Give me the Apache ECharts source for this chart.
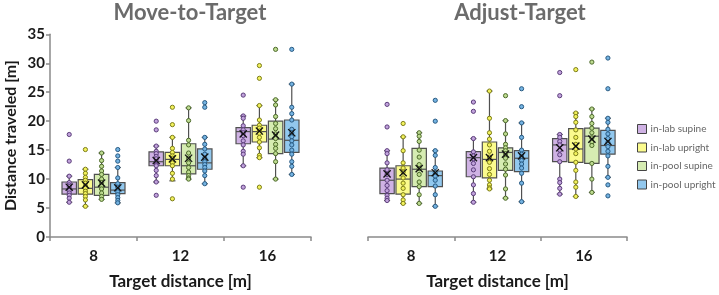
<!DOCTYPE html>
<html><head><meta charset="utf-8">
<script src="https://cdn.jsdelivr.net/npm/echarts@6/dist/echarts.min.js"></script>
<style>html,body{margin:0;padding:0;background:#fff}#c{width:719px;height:295px}</style>
</head><body><div id="c"></div>
<script>
const categories = ['8', '12', '16'];
const conditions = ['in-lab supine', 'in-lab upright', 'in-pool supine', 'in-pool upright'];
const panelTitles = ['Move-to-Target', 'Adjust-Target'];

// Move-to-Target: [min, Q1, median, Q3, max] per target distance (8, 12, 16)
const mttBoxLabSupine  = [[6.0, 7.4, 8.3, 9.5, 10.5], [9.5, 12.3, 13.0, 14.7, 15.7], [12.3, 16.1, 18.2, 18.9, 20.9]];
const mttBoxLabUpright = [[5.3, 7.4, 8.4, 9.9, 11.7], [9.7, 12.3, 13.4, 14.6, 17.2], [13.7, 16.4, 18.2, 19.3, 22.7]];
const mttBoxPoolSupine = [[6.5, 7.2, 8.6, 10.8, 14.5], [10.0, 10.9, 12.3, 16.1, 22.3], [10.0, 14.4, 16.9, 20.0, 23.7]];
const mttBoxPoolUpright= [[5.9, 7.5, 8.1, 9.4, 12.0], [9.2, 11.7, 12.8, 15.2, 17.2], [10.8, 14.6, 16.7, 20.2, 26.4]];
const mttMeanLabSupine  = [8.6, 13.2, 17.8];
const mttMeanLabUpright = [9.0, 13.5, 18.3];
const mttMeanPoolSupine = [9.3, 13.6, 17.6];
const mttMeanPoolUpright= [8.5, 13.8, 18.0];
const mttPtsLabSupine  = [[17.7, 13.1, 10.5, 9.4, 9.0, 8.7, 8.3, 8.0, 7.6, 7.2, 6.7, 6.0],
                          [20.0, 18.5, 15.7, 14.8, 14.4, 13.9, 13.5, 13.0, 12.5, 12.3, 11.5, 10.6, 9.5, 7.2],
                          [24.5, 20.9, 20.5, 19.2, 18.5, 18.0, 17.5, 16.6, 15.9, 14.8, 14.3, 12.3, 8.6]];
const mttPtsLabUpright = [[15.1, 11.7, 11.0, 10.3, 9.8, 9.3, 8.8, 8.4, 7.9, 7.5, 7.0, 6.4, 5.3],
                          [22.4, 19.4, 17.2, 15.3, 14.6, 14.0, 13.6, 13.2, 12.8, 12.3, 11.0, 10.0, 6.6],
                          [29.6, 27.4, 22.7, 20.2, 19.3, 18.8, 18.3, 17.9, 17.2, 16.4, 15.4, 14.1, 13.7, 8.6]];
const mttPtsPoolSupine = [[14.5, 13.2, 12.2, 11.4, 10.8, 10.0, 9.4, 8.8, 8.3, 7.6, 7.0, 6.5],
                          [22.3, 20.1, 16.7, 15.9, 14.5, 13.6, 12.8, 12.0, 11.2, 10.6, 10.2, 10.0],
                          [32.4, 23.7, 22.8, 20.8, 19.6, 18.7, 17.8, 17.0, 16.0, 15.3, 14.4, 13.0, 10.0]];
const mttPtsPoolUpright= [[15.1, 14.0, 13.1, 12.0, 10.2, 9.2, 8.6, 8.1, 7.8, 7.3, 6.8, 6.3, 5.9],
                          [23.2, 22.4, 17.2, 16.0, 15.2, 14.3, 13.6, 13.0, 12.5, 12.0, 11.4, 10.6, 9.2],
                          [32.4, 26.4, 22.4, 21.3, 20.2, 18.6, 18.0, 17.3, 16.6, 15.9, 15.0, 14.3, 13.0, 12.2, 10.8]];

// Adjust-Target
const atBoxLabSupine  = [[6.3, 7.5, 9.8, 11.9, 14.9], [6.0, 10.4, 13.7, 14.75, 17.0], [7.4, 13.0, 15.9, 17.0, 17.7]];
const atBoxLabUpright = [[5.8, 7.4, 10.0, 12.3, 17.3], [8.3, 10.2, 13.4, 16.4, 25.2], [7.0, 12.9, 15.2, 18.7, 21.4]];
const atBoxPoolSupine = [[5.8, 8.7, 11.7, 15.3, 18.0], [6.7, 11.5, 14.6, 15.4, 20.1], [7.7, 12.7, 17.4, 18.8, 22.1]];
const atBoxPoolUpright= [[5.3, 8.7, 10.6, 11.4, 14.9], [6.1, 11.3, 13.6, 14.9, 19.7], [10.3, 14.3, 15.8, 18.4, 20.5]];
const atMeanLabSupine  = [10.9, 13.7, 15.4];
const atMeanLabUpright = [11.1, 13.7, 15.7];
const atMeanPoolSupine = [11.8, 14.3, 16.9];
const atMeanPoolUpright= [11.1, 14.0, 16.5];
const atPtsLabSupine  = [[22.9, 19.0, 14.9, 14.4, 12.8, 11.6, 10.8, 9.8, 8.9, 8.0, 7.2, 6.7, 6.3],
                         [23.3, 21.7, 17.0, 14.7, 14.0, 13.5, 12.7, 11.6, 10.4, 9.0, 7.5, 6.0],
                         [28.4, 24.4, 17.7, 17.2, 16.5, 15.9, 15.0, 14.2, 13.0, 10.0, 9.4, 8.4, 7.4]];
const atPtsLabUpright = [[19.6, 17.3, 14.9, 12.8, 11.9, 11.2, 10.2, 9.3, 8.4, 7.3, 6.4, 5.8],
                         [25.2, 20.5, 18.0, 16.9, 15.9, 14.8, 13.8, 12.9, 11.8, 10.8, 9.8, 9.0, 8.5, 8.3],
                         [28.9, 21.4, 20.8, 19.8, 18.5, 17.2, 16.0, 15.2, 14.4, 12.9, 11.5, 9.5, 8.6, 7.0]];
const atPtsPoolSupine = [[18.0, 17.4, 16.5, 15.0, 13.8, 12.5, 11.8, 10.8, 9.5, 8.7, 7.3, 5.8],
                         [24.4, 20.1, 17.8, 16.0, 15.4, 14.9, 14.4, 13.6, 12.6, 11.7, 10.7, 8.3, 6.7],
                         [30.2, 22.1, 20.8, 19.6, 18.8, 18.0, 17.1, 16.4, 15.8, 12.7, 10.0, 7.7]];
const atPtsPoolUpright= [[23.6, 20.0, 14.9, 14.1, 12.0, 11.1, 10.5, 9.8, 8.8, 7.3, 5.3],
                         [25.6, 22.5, 19.7, 17.2, 15.0, 14.3, 13.8, 13.2, 12.6, 11.9, 11.0, 9.3, 6.1],
                         [30.9, 25.6, 20.5, 19.8, 18.6, 17.8, 17.0, 16.3, 15.6, 14.8, 14.0, 12.2, 10.3, 9.0, 7.1]];

const boxFill   = ['#cfb2e4', '#fbfb8e', '#d6ecb2', '#92c8ee'];
const ptFill    = ['#c1a2dc', '#f2f25c', '#bddb90', '#74b3e2'];
const ptStroke  = ['#5b3d7a', '#7d7d18', '#4d6a2a', '#285a82'];
const FONT = 'Lato';

const panels = [
  {boxes: [mttBoxLabSupine, mttBoxLabUpright, mttBoxPoolSupine, mttBoxPoolUpright],
   means: [mttMeanLabSupine, mttMeanLabUpright, mttMeanPoolSupine, mttMeanPoolUpright],
   pts:   [mttPtsLabSupine, mttPtsLabUpright, mttPtsPoolSupine, mttPtsPoolUpright]},
  {boxes: [atBoxLabSupine, atBoxLabUpright, atBoxPoolSupine, atBoxPoolUpright],
   means: [atMeanLabSupine, atMeanLabUpright, atMeanPoolSupine, atMeanPoolUpright],
   pts:   [atPtsLabSupine, atPtsLabUpright, atPtsPoolSupine, atPtsPoolUpright]}
];

const STEP = 0.186, HALFW = 0.083, CAP = 0.035;
function xOf(api, c, k) {
  const band = api.size([1, 0])[0];
  return {x: api.coord([c, 0])[0] + (k - 1.5) * band * STEP, band: band};
}
function boxRender(k) {
  return function (params, api) {
    const c = api.value(0);
    const p = xOf(api, c, k), x = p.x, hw = p.band * HALFW, cw = p.band * CAP;
    const y = [1, 2, 3, 4, 5].map(d => api.coord([c, api.value(d)])[1]);
    const ls = {stroke: '#505050', lineWidth: 1.2};
    return {type: 'group', children: [
      {type: 'line', shape: {x1: x, y1: y[4], x2: x, y2: y[3]}, style: ls},
      {type: 'line', shape: {x1: x, y1: y[1], x2: x, y2: y[0]}, style: ls},
      {type: 'line', shape: {x1: x - cw, y1: y[4], x2: x + cw, y2: y[4]}, style: ls},
      {type: 'line', shape: {x1: x - cw, y1: y[0], x2: x + cw, y2: y[0]}, style: ls},
      {type: 'rect', shape: {x: x - hw, y: y[3], width: 2 * hw, height: y[1] - y[3]},
       style: {fill: boxFill[k], stroke: '#505050', lineWidth: 1.2}},
      {type: 'line', shape: {x1: x - hw, y1: y[2], x2: x + hw, y2: y[2]}, style: ls}
    ]};
  };
}
function ptRender(k) {
  return function (params, api) {
    const c = api.value(0);
    const x = xOf(api, c, k).x;
    const y = api.coord([c, api.value(1)])[1];
    return {type: 'circle', shape: {cx: x, cy: y, r: 2.1},
            style: {fill: ptFill[k], stroke: ptStroke[k], lineWidth: 1}};
  };
}
function meanRender(k) {
  return function (params, api) {
    const c = api.value(0);
    const x = xOf(api, c, k).x;
    const y = api.coord([c, api.value(1)])[1];
    const s = 3.6, ls = {stroke: '#111', lineWidth: 1.3};
    return {type: 'group', children: [
      {type: 'line', shape: {x1: x - s, y1: y - s, x2: x + s, y2: y + s}, style: ls},
      {type: 'line', shape: {x1: x - s, y1: y + s, x2: x + s, y2: y - s}, style: ls}
    ]};
  };
}

const series = [];
panels.forEach((pn, p) => {
  for (let k = 0; k < 4; k++) {
    series.push({type: 'custom', name: conditions[k], xAxisIndex: p, yAxisIndex: p, z: 2,
      itemStyle: {color: boxFill[k]}, renderItem: boxRender(k), encode: {x: 0, y: [1, 2, 3, 4, 5]},
      data: categories.map((_, i) => [i].concat(pn.boxes[k][i])), silent: true});
  }
  for (let k = 0; k < 4; k++) {
    const d = [];
    categories.forEach((_, i) => pn.pts[k][i].forEach(v => d.push([i, v])));
    series.push({type: 'custom', xAxisIndex: p, yAxisIndex: p, z: 3,
      renderItem: ptRender(k), encode: {x: 0, y: 1}, data: d, silent: true});
  }
  for (let k = 0; k < 4; k++) {
    series.push({type: 'custom', xAxisIndex: p, yAxisIndex: p, z: 4,
      renderItem: meanRender(k), encode: {x: 0, y: 1},
      data: categories.map((_, i) => [i, pn.means[k][i]]), silent: true});
  }
});

const axisLine = {show: true, lineStyle: {color: '#8a8a8a', width: 1.5}};
const xAx = (idx) => ({type: 'category', gridIndex: idx, data: categories,
  axisLine: axisLine, axisTick: {show: true, length: 4, lineStyle: {color: '#8a8a8a', width: 1.5}},
  axisLabel: {fontFamily: FONT, fontWeight: 'bold', fontSize: 15, color: '#1a1a1a', margin: 12},
  name: 'Target distance [m]', nameLocation: 'middle', nameGap: 36,
  nameTextStyle: {fontFamily: FONT, fontWeight: 'bold', fontSize: 17, color: '#1a1a1a'}});

const option = {
  animation: false,
  backgroundColor: '#fff',
  title: panelTitles.map((t, i) => ({text: t, left: i === 0 ? 185 : 515, top: -3, textAlign: 'center',
    textStyle: {fontFamily: FONT, fontWeight: 'bold', fontSize: 22, color: '#6b6b6b'}})),
  legend: {orient: 'vertical', left: 637, top: 124, padding: 0, itemWidth: 9, itemHeight: 9, itemGap: 8.5,
    icon: 'rect', data: conditions,
    itemStyle: {borderColor: '#444', borderWidth: 1},
    textStyle: {fontFamily: FONT, fontSize: 10, color: '#666', padding: [0, 0, 0, -1]}},
  grid: [
    {left: 50, top: 34.3, width: 261, height: 204},
    {left: 368, top: 34.3, width: 259, height: 204}
  ],
  xAxis: [xAx(0), xAx(1)],
  yAxis: [
    {type: 'value', gridIndex: 0, min: 0, max: 35, interval: 5,
     axisLine: axisLine, axisTick: {show: true, length: 4, lineStyle: {color: '#8a8a8a', width: 1.5}},
     splitLine: {show: false},
     axisLabel: {fontFamily: FONT, fontWeight: 'bold', fontSize: 15, color: '#1a1a1a', margin: 5},
     name: 'Distance traveled [m]', nameLocation: 'middle', nameGap: 31, nameRotate: 90,
     nameTextStyle: {fontFamily: FONT, fontWeight: 'bold', fontSize: 16, color: '#1a1a1a'}},
    {type: 'value', gridIndex: 1, min: 0, max: 35, interval: 5, show: false, splitLine: {show: false}}
  ],
  series: series
};
const chart = echarts.init(document.getElementById('c'), null, {renderer: 'canvas'});
chart.setOption(option);
</script></body></html>
